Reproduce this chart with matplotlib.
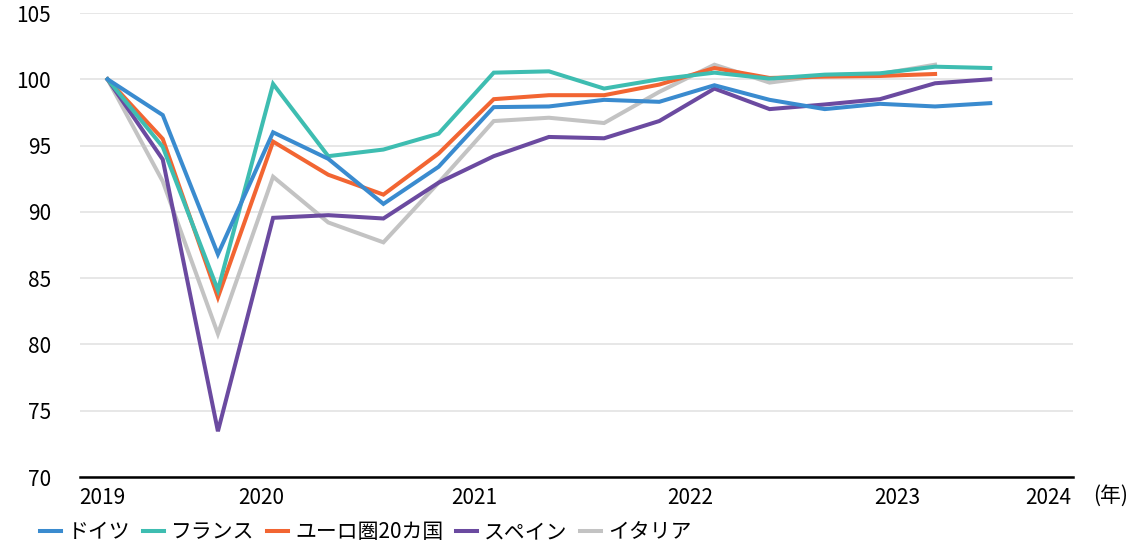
import matplotlib
matplotlib.use("Agg")
import matplotlib.pyplot as plt
import numpy as np

plt.rcParams["font.family"] = ["Noto Sans CJK JP", "DejaVu Sans"]

# 実質GDP指数（2019年第1四半期=100）、四半期
germany = [100, 97.3, 86.8, 96.0, 94.0, 90.6, 93.4, 97.9, 97.95, 98.45,
           98.3, 99.55, 98.45, 97.75, 98.15, 97.95, 98.2]
france = [100, 94.9, 84.1, 99.65, 94.2, 94.7, 95.9, 100.5, 100.6, 99.3,
          100.0, 100.5, 100.05, 100.35, 100.45, 100.95, 100.85]
euro20 = [100, 95.5, 83.55, 95.3, 92.8, 91.3, 94.4, 98.5, 98.8, 98.8,
          99.6, 100.85, 100.1, 100.2, 100.25, 100.4]
spain = [100, 93.95, 73.45, 89.55, 89.75, 89.5, 92.2, 94.2, 95.65, 95.55,
         96.85, 99.3, 97.75, 98.1, 98.5, 99.7, 100.0]
italy = [100, 92.3, 80.8, 92.65, 89.2, 87.7, 92.2, 96.85, 97.1, 96.7,
         99.05, 101.1, 99.75, 100.3, 100.4, 101.1]

series_names = ["ドイツ", "フランス", "ユーロ圏20カ国", "スペイン", "イタリア"]
series_values = [germany, france, euro20, spain, italy]
series_colors = ["#3A8BCF", "#3EBDB1", "#F26532", "#6B4AA0", "#C3C3C3"]

year_labels = ["2019", "2020", "2021", "2022", "2023", "2024"]
year_tick_pos = [-0.09, 2.79, 6.65, 10.56, 14.31, 17.05]
y_ticks = [70, 75, 80, 85, 90, 95, 100, 105]

fig = plt.figure(figsize=(11.41, 5.44), dpi=100)
ax = fig.add_axes([80 / 1141, 1 - 477 / 544, (1073 - 80) / 1141, (477 - 13) / 544])

handles = []
for i, (name, vals, col) in enumerate(zip(series_names, series_values, series_colors)):
    x = np.arange(len(vals))
    (ln,) = ax.plot(x, vals, color=col, lw=2.9, label=name,
                    solid_joinstyle="miter", zorder=10 - i)
    handles.append(ln)

ax.set_xlim(-0.5, 17.5)
ax.set_ylim(70, 105)
ax.set_yticks(y_ticks)
ax.set_xticks(year_tick_pos)
ax.set_xticklabels(year_labels)
ax.tick_params(axis="y", length=0, pad=21, labelsize=15)
ax.tick_params(axis="x", length=0, pad=7, labelsize=15)
ax.yaxis.grid(True, color="#E3E3E3", lw=1.2)
ax.set_axisbelow(True)
for side in ["top", "right", "left"]:
    ax.spines[side].set_visible(False)
ax.spines["bottom"].set_linewidth(1.8)
ax.spines["bottom"].set_zorder(20)

fig.text(1093 / 1141, 1 - 496 / 544, "(年)", fontsize=15, ha="left", va="center")

fig.legend(handles=handles, loc="center left",
           bbox_to_anchor=(40 / 1141, 1 - 532 / 544), ncol=5, frameon=False,
           fontsize=15, handlelength=1.0, handletextpad=0.35,
           columnspacing=0.6, borderpad=0, borderaxespad=0)

fig.savefig("out.png", dpi=100)
